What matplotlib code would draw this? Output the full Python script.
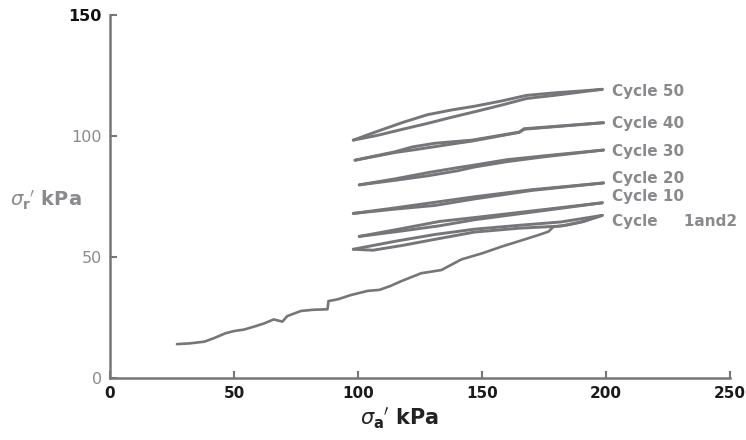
import matplotlib
matplotlib.use("Agg")
import matplotlib.pyplot as plt

plt.rcParams['font.family'] = ['DejaVu Sans']
plt.rcParams['mathtext.fontset'] = 'dejavusans'

# virgin loading curve
virgin_x = [27, 32, 38, 42, 46.6, 50, 54, 58, 62, 66, 69.5, 71.5, 77, 82, 87.7, 88.1,
            91.8, 97.2, 103.9, 108.6, 113, 117.4, 125.5, 133.6, 141.7, 150, 157.9,
            167.3, 174, 176.8, 178.8, 185, 191, 198.5]
virgin_y = [14, 14.3, 15, 16.5, 18.5, 19.4, 20, 21.2, 22.5, 24.2, 23.3, 25.6, 27.7, 28.2,
            28.4, 31.8, 32.5, 34.3, 36, 36.4, 38, 40, 43.3, 44.6, 49, 51.5, 54.3,
            57.3, 59.5, 60.5, 62.5, 63.3, 64.6, 67.2]

# cycle loops: upper (unloading) and lower (loading) branches
cyc50_up_x = [98.1, 108, 118, 128, 138, 147, 158, 168, 180, 190, 198.5]
cyc50_up_y = [98.3, 102, 105.6, 108.8, 110.8, 112.3, 114.5, 116.8, 117.9, 118.6, 119.3]
cyc50_lo_x = [98.1, 108, 118, 128, 138, 147, 158, 168, 180, 190, 198.5]
cyc50_lo_y = [98.3, 100.3, 102.8, 105.2, 107.8, 110, 112.8, 115.5, 116.9, 118.2, 119.3]

cyc40_up_x = [98.8, 115, 122, 131, 146, 165, 167, 199]
cyc40_up_y = [90, 93.5, 95.5, 97, 98.3, 101.6, 103, 105.5]
cyc40_lo_x = [98.8, 115, 122, 131, 140, 146, 165, 167, 199]
cyc40_lo_y = [90, 93.2, 94.2, 95.6, 97, 97.9, 101.5, 102.8, 105.5]

cyc30_up_x = [100.5, 115, 128.4, 140, 147, 160, 175, 199]
cyc30_up_y = [79.8, 82.3, 84.9, 86.9, 88, 90.2, 91.8, 94.2]
cyc30_lo_x = [100.5, 115, 128.4, 140, 147, 160, 175, 199]
cyc30_lo_y = [79.8, 81.7, 83.6, 85.6, 87.2, 89.4, 91.4, 94.2]

cyc20_up_x = [98.1, 115, 131, 147, 170, 199]
cyc20_up_y = [68, 70.3, 72.6, 74.9, 77.8, 80.6]
cyc20_lo_x = [98.1, 115, 131, 147, 170, 199]
cyc20_lo_y = [68, 69.8, 71.3, 74.0, 77.5, 80.6]

cyc10_up_x = [100.5, 118, 132.9, 147, 175, 198.5]
cyc10_up_y = [58.5, 61.8, 64.7, 66.3, 69.6, 72.4]
cyc10_lo_x = [100.5, 118, 132.9, 147, 175, 198.5]
cyc10_lo_y = [58.5, 60.8, 62.9, 65.4, 69.2, 72.4]

cyc1_up_x = [98.1, 115, 131, 147, 165, 182, 198.5]
cyc1_up_y = [53.2, 56.5, 59.3, 61.5, 63.1, 64.5, 67.2]
cyc1_lo_x = [98.1, 106, 118, 131, 147, 165, 182, 190, 198.5]
cyc1_lo_y = [53.2, 52.8, 54.8, 57.3, 60.3, 61.9, 62.8, 64.5, 67.2]

cycle_labels = ["Cycle 50", "Cycle 40", "Cycle 30", "Cycle 20", "Cycle 10", "Cycle     1and2"]
label_y = [118.2, 105.0, 93.4, 82.6, 74.8, 64.5]

x_ticks = [0, 50, 100, 150, 200, 250]
y_ticks = [0, 50, 100, 150]

LINE = '#76767a'
GRAY_TXT = '#8a8a8e'

fig = plt.figure(figsize=(7.46, 4.40), dpi=100)
ax = fig.add_axes([110/746, 62/440, 620/746, 363/440])

ax.plot(virgin_x, virgin_y, color=LINE, lw=1.9, solid_capstyle='round')
loops = [(cyc50_up_x, cyc50_up_y, cyc50_lo_x, cyc50_lo_y),
         (cyc40_up_x, cyc40_up_y, cyc40_lo_x, cyc40_lo_y),
         (cyc30_up_x, cyc30_up_y, cyc30_lo_x, cyc30_lo_y),
         (cyc20_up_x, cyc20_up_y, cyc20_lo_x, cyc20_lo_y),
         (cyc10_up_x, cyc10_up_y, cyc10_lo_x, cyc10_lo_y),
         (cyc1_up_x, cyc1_up_y, cyc1_lo_x, cyc1_lo_y)]
for ux, uy, lx, ly in loops:
    ax.plot(ux, uy, color=LINE, lw=2.1, solid_capstyle='round')
    ax.plot(lx, ly, color=LINE, lw=2.1, solid_capstyle='round')

for lab, ly in zip(cycle_labels, label_y):
    ax.text(202.5, ly, lab, color=GRAY_TXT, fontsize=11, fontweight='bold',
            ha='left', va='center', clip_on=False)

ax.set_xlim(0, 250)
ax.set_ylim(0, 150)
for s in ['top', 'right']:
    ax.spines[s].set_visible(False)
for s in ['left', 'bottom']:
    ax.spines[s].set_color(LINE)
    ax.spines[s].set_linewidth(1.8)

ax.set_xticks(x_ticks)
ax.set_yticks(y_ticks)
ax.set_xticklabels([str(v) for v in x_ticks], fontsize=11, fontweight='bold', color='#1a1a1a')
ax.set_yticklabels([str(v) for v in y_ticks], fontsize=11.5, color=GRAY_TXT)
ax.get_yticklabels()[-1].set_color('#111111')
ax.get_yticklabels()[-1].set_fontweight('bold')
ax.tick_params(axis='both', direction='in', length=5, width=1.5, color=LINE)
ax.tick_params(axis='x', pad=6)
ax.tick_params(axis='y', pad=6)

fig.text(400/746, 1 - 418/440, r"$\sigma_{\mathbf{a}}$$'$ kPa", fontsize=15, fontweight='bold',
         color='#222222', ha='center', va='center')
fig.text(10/746, 1 - 200/440, r"$\sigma_{\mathbf{r}}$$'$ kPa", fontsize=14, fontweight='bold',
         color=GRAY_TXT, ha='left', va='center')

fig.savefig("out.png", dpi=100)
